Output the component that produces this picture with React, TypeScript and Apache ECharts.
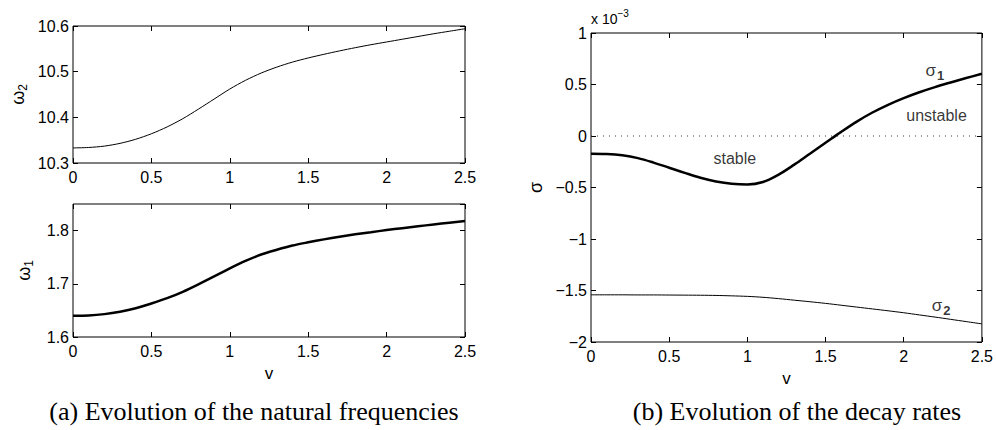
import React, { useEffect, useRef } from "react";
import * as echarts from "echarts";

const V = [0, 0.1, 0.2, 0.3, 0.4, 0.5, 0.6, 0.7, 0.8, 0.9, 1.0, 1.1, 1.2, 1.3, 1.4, 1.5, 1.6, 1.7, 1.8, 1.9, 2.0, 2.1, 2.2, 2.3, 2.4, 2.5];

const OMEGA2 = [10.333, 10.334, 10.337, 10.343, 10.352, 10.364, 10.379, 10.397, 10.418, 10.44, 10.462, 10.481, 10.497, 10.51, 10.521, 10.53, 10.538, 10.5455, 10.5525, 10.559, 10.565, 10.571, 10.577, 10.583, 10.5885, 10.594];

const OMEGA1 = [1.64, 1.6405, 1.643, 1.6475, 1.654, 1.663, 1.673, 1.685, 1.699, 1.714, 1.729, 1.743, 1.755, 1.764, 1.772, 1.778, 1.7835, 1.7885, 1.793, 1.797, 1.801, 1.8046, 1.8081, 1.8115, 1.8148, 1.818];

// values in units of 1e-3
const SIGMA1 = [-0.172, -0.175, -0.188, -0.215, -0.258, -0.308, -0.358, -0.405, -0.441, -0.463, -0.47, -0.446, -0.375, -0.278, -0.172, -0.066, 0.04, 0.14, 0.228, 0.303, 0.368, 0.425, 0.475, 0.52, 0.563, 0.604];

const SIGMA2 = [-1.542, -1.542, -1.542, -1.543, -1.543, -1.544, -1.545, -1.546, -1.548, -1.552, -1.557, -1.566, -1.579, -1.594, -1.609, -1.625, -1.643, -1.661, -1.679, -1.697, -1.716, -1.737, -1.758, -1.78, -1.802, -1.824];

const ZERO_LINE = [0, 0];
const ZERO_LINE_V = [0, 2.5];

// annotation anchors in data coordinates (v, sigma*1e3)
const LABEL_STABLE = [0.92, -0.215];
const LABEL_UNSTABLE = [2.21, 0.195];
const LABEL_SIGMA1 = [2.2, 0.64];
const LABEL_SIGMA2 = [2.24, -1.645];

const CAPTION_A = "(a) Evolution of the natural frequencies";
const CAPTION_B = "(b) Evolution of the decay rates";

const SANS = "'Liberation Sans', Arial, Helvetica, sans-serif";
const SERIF = "'Liberation Serif', 'DejaVu Serif', serif";

const pairs = (xs: number[], ys: number[]) => xs.map((x, i) => [x, ys[i]]);

const fmtX = (v: number) => String(Math.round(v * 10) / 10);
const fmt1 = (v: number) => (Math.round(v * 10) / 10).toFixed(1);
const fmtSigma = (v: number) => {
  const r = Math.round(v * 10) / 10;
  if (r === 0) return "0";
  return (r < 0 ? "\u2212" : "") + String(Math.abs(r));
};

const tick = { show: true, inside: true, length: 5, lineStyle: { color: "#000", width: 1 } };
const noLine = { show: false, onZero: false };

function xAxes(gridIndex: number, showName: boolean) {
  return [
    {
      type: "value", gridIndex, min: 0, max: 2.5, interval: 0.5, position: "bottom",
      axisLine: noLine, splitLine: { show: false }, axisTick: tick,
      axisLabel: { color: "#000", fontSize: 16, fontFamily: SANS, margin: 6, formatter: fmtX },
      name: showName ? "v" : "", nameLocation: "middle", nameGap: 28,
      nameTextStyle: { color: "#000", fontSize: 17, fontFamily: SANS },
    },
    {
      type: "value", gridIndex, min: 0, max: 2.5, interval: 0.5, position: "top",
      axisLine: noLine, splitLine: { show: false }, axisTick: tick,
      axisLabel: { show: false },
    },
  ];
}

function yAxes(gridIndex: number, min: number, max: number, interval: number, fmt: (v: number) => string, name: string, nameGap: number, hideMax: boolean) {
  return [
    {
      type: "value", gridIndex, min, max, interval, position: "left",
      axisLine: noLine, splitLine: { show: false }, axisTick: tick,
      axisLabel: { color: "#000", fontSize: 16, fontFamily: SANS, margin: 4, formatter: fmt, showMaxLabel: !hideMax },
      name, nameLocation: "middle", nameGap, nameRotate: 90,
      nameTextStyle: {
        color: "#000", fontFamily: SANS,
        rich: {
          a: { fontSize: 18, fontFamily: SANS, color: "#000" },
          b: { fontSize: 12, fontFamily: SANS, color: "#000", padding: [0, 0, -10, 0] },
        },
      },
    },
    {
      type: "value", gridIndex, min, max, interval, position: "right",
      axisLine: noLine, splitLine: { show: false }, axisTick: tick,
      axisLabel: { show: false },
    },
  ];
}

const annot = (pos: number[], text: string, xi: number, yi: number) => ({
  type: "scatter", xAxisIndex: xi, yAxisIndex: yi, symbolSize: 0, silent: true,
  data: [pos],
  label: {
    show: true, position: "inside", formatter: text, color: "#000", fontSize: 16, fontFamily: SANS,
    rich: {
      s: { fontSize: 17, fontFamily: SANS, color: "#000" },
      n: { fontSize: 13, fontWeight: "bold", fontFamily: SANS, color: "#000", padding: [0, 0, -10, 1] },
    },
  },
});

export default function App() {
  const ref = useRef<HTMLDivElement>(null);
  useEffect(() => {
    if (!ref.current) return;
    const chart = echarts.init(ref.current, undefined, { renderer: "svg" });
    const gridStyle = { show: true, borderColor: "#000", borderWidth: 1, backgroundColor: "transparent", containLabel: false };
    chart.setOption({
      animation: false,
      backgroundColor: "#fff",
      grid: [
        { ...gridStyle, left: 73, top: 26, width: 392, height: 137 },
        { ...gridStyle, left: 73, top: 204, width: 392, height: 133 },
        { ...gridStyle, left: 591, top: 33, width: 391, height: 309 },
      ],
      xAxis: [...xAxes(0, false), ...xAxes(1, true), ...xAxes(2, true)],
      yAxis: [
        ...yAxes(0, 10.3, 10.6, 0.1, fmt1, "{a|ω}{b|2}", 46, false),
        ...yAxes(1, 1.6, 1.85, 0.1, fmt1, "{a|ω}{b|1}", 40, true),
        ...yAxes(2, -2, 1, 0.5, fmtSigma, "{a|σ}", 46, false),
      ],
      series: [
        { type: "line", xAxisIndex: 0, yAxisIndex: 0, data: pairs(V, OMEGA2), showSymbol: false, smooth: 0.3, lineStyle: { color: "#000", width: 1 } },
        { type: "line", xAxisIndex: 2, yAxisIndex: 2, data: pairs(V, OMEGA1), showSymbol: false, smooth: 0.3, lineStyle: { color: "#000", width: 2.5 } },
        { type: "line", xAxisIndex: 4, yAxisIndex: 4, data: pairs(ZERO_LINE_V, ZERO_LINE), showSymbol: false, lineStyle: { color: "#333", width: 1, type: [1, 5] } },
        { type: "line", xAxisIndex: 4, yAxisIndex: 4, data: pairs(V, SIGMA1), showSymbol: false, smooth: 0.35, lineStyle: { color: "#000", width: 2.5 } },
        { type: "line", xAxisIndex: 4, yAxisIndex: 4, data: pairs(V, SIGMA2), showSymbol: false, smooth: 0.3, lineStyle: { color: "#000", width: 1 } },
        annot(LABEL_STABLE, "stable", 4, 4),
        annot(LABEL_UNSTABLE, "unstable", 4, 4),
        annot(LABEL_SIGMA1, "{s|σ}{n|1}", 4, 4),
        annot(LABEL_SIGMA2, "{s|σ}{n|2}", 4, 4),
      ],
      graphic: [
        {
          type: "text", left: 591, top: 8,
          style: { text: "{a|x 10}{b|−3}", fill: "#000", rich: { a: { fontSize: 14, fontFamily: SANS, fill: "#000", padding: [6, 0, 0, 0] }, b: { fontSize: 10, fontFamily: SANS, fill: "#000", padding: [0, 0, 6, 0] } } },
        },
        { type: "text", x: 254, y: 411, style: { text: CAPTION_A, fontSize: 26, fontFamily: SERIF, fill: "#000", align: "center", verticalAlign: "middle" } },
        { type: "text", x: 797, y: 411, style: { text: CAPTION_B, fontSize: 26, fontFamily: SERIF, fill: "#000", align: "center", verticalAlign: "middle" } },
      ],
    });
    return () => chart.dispose();
  }, []);
  return <div ref={ref} style={{ position: "fixed", left: 0, top: 0, width: 996, height: 430 }} />;
}
